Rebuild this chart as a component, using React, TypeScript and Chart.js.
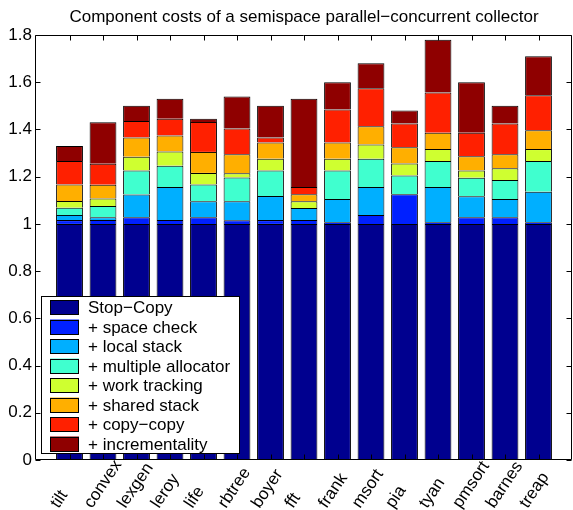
import { useEffect, useRef } from 'react';
import { Chart, registerables } from 'chart.js';

Chart.register(...registerables);

const FONT = '"Liberation Sans", Arial, Helvetica, sans-serif';

const title = 'Component costs of a semispace parallel−concurrent collector';

const categories = ['tilt', 'convex', 'lexgen', 'leroy', 'life', 'rbtree', 'boyer', 'fft', 'frank', 'msort', 'pia', 'tyan', 'pmsort', 'barnes', 'treap'];

const seriesNames = ['Stop−Copy', '+ space check', '+ local stack', '+ multiple allocator', '+ work tracking', '+ shared stack', '+ copy−copy', '+ incrementality'];

const seriesColors = ['#00008F', '#0020FF', '#00AFFF', '#40FFCF', '#CFFF30', '#FFAF00', '#FF2000', '#8F0000'];

// increments per stage (stacked)
const stopCopy = [1.0, 1.0, 1.0, 1.0, 1.0, 1.0, 1.0, 1.0, 1.0, 1.0, 1.0, 1.0, 1.0, 1.0, 1.0];
const spaceCheck = [0.016, 0.016, 0.028, 0.016, 0.028, 0.015, 0.016, 0.016, 0.007, 0.038, 0.126, 0.007, 0.028, 0.028, 0.007];
const localStack = [0.022, 0.012, 0.097, 0.140, 0.068, 0.081, 0.102, 0.051, 0.098, 0.118, 0.0, 0.149, 0.089, 0.077, 0.129];
const multipleAllocator = [0.030, 0.048, 0.101, 0.090, 0.071, 0.101, 0.108, 0.0, 0.121, 0.120, 0.079, 0.110, 0.078, 0.081, 0.130];
const workTracking = [0.029, 0.032, 0.058, 0.061, 0.049, 0.018, 0.050, 0.029, 0.050, 0.060, 0.051, 0.051, 0.031, 0.050, 0.051];
const sharedStack = [0.070, 0.058, 0.082, 0.067, 0.089, 0.080, 0.069, 0.030, 0.069, 0.078, 0.069, 0.069, 0.060, 0.059, 0.080];
const copyCopy = [0.099, 0.089, 0.070, 0.071, 0.127, 0.109, 0.021, 0.030, 0.139, 0.160, 0.100, 0.170, 0.100, 0.130, 0.148];
const incrementality = [0.064, 0.175, 0.064, 0.085, 0.013, 0.136, 0.134, 0.374, 0.116, 0.106, 0.055, 0.224, 0.214, 0.075, 0.165];

const seriesValues = [stopCopy, spaceCheck, localStack, multipleAllocator, workTracking, sharedStack, copyCopy, incrementality];

const yMin = 0;
const yMax = 1.8;
const yStep = 0.2;

const matlabPlugin = {
  id: 'matlabStyle',
  afterDatasetsDraw(chart: any) {
    const { ctx, chartArea: a, scales } = chart;
    ctx.save();
    ctx.strokeStyle = '#000';
    ctx.lineWidth = 1;
    const L = Math.round(a.left) - 0.5;
    const R = Math.round(a.right) - 0.5;
    const T = Math.round(a.top) + 0.5;
    const B = Math.round(a.bottom) - 0.5;
    ctx.beginPath();
    ctx.rect(L, T, R - L, B - T);
    scales.y.ticks.forEach((t: any) => {
      const y = Math.round(scales.y.getPixelForValue(t.value)) + 0.5;
      ctx.moveTo(L, y); ctx.lineTo(L + 5, y);
      ctx.moveTo(R, y); ctx.lineTo(R - 5, y);
    });
    categories.forEach((_, i) => {
      const x = Math.round(scales.x.getPixelForValue(i + 1)) + 0.5;
      ctx.moveTo(x, T); ctx.lineTo(x, T + 5);
      ctx.moveTo(x, B); ctx.lineTo(x, B - 5);
    });
    ctx.stroke();
    ctx.restore();
  },
  afterDraw(chart: any) {
    const { ctx, chartArea: a, scales } = chart;
    ctx.save();
    // rotated category labels
    ctx.font = `17px ${FONT}`;
    ctx.fillStyle = '#000';
    ctx.textAlign = 'left';
    ctx.textBaseline = 'alphabetic';
    const ang = (56 * Math.PI) / 180;
    categories.forEach((c, i) => {
      const x = scales.x.getPixelForValue(i + 1);
      ctx.save();
      ctx.translate(x - 11, a.bottom + 49);
      ctx.rotate(-ang);
      ctx.fillText(c, 0, 0);
      ctx.restore();
    });
    // legend
    const left = a.left + 5;
    const bottom = a.bottom - 7;
    const pitch = 19.5;
    const boxH = 157;
    const top = bottom - boxH;
    const textX = left + 47;
    let maxW = 0;
    seriesNames.forEach((n) => { maxW = Math.max(maxW, ctx.measureText(n).width); });
    const right = textX + maxW + 9;
    ctx.fillStyle = '#fff';
    ctx.fillRect(left, top, right - left, boxH);
    ctx.strokeStyle = '#000';
    ctx.lineWidth = 1;
    ctx.strokeRect(Math.round(left) + 0.5, Math.round(top) + 0.5, Math.round(right - left), Math.round(boxH));
    ctx.textBaseline = 'middle';
    seriesNames.forEach((n, i) => {
      const sy = top + 4 + i * pitch;
      ctx.fillStyle = seriesColors[i];
      ctx.fillRect(left + 9, sy, 29, 14.5);
      ctx.strokeStyle = '#000';
      ctx.strokeRect(left + 9.5, Math.round(sy) + 0.5, 28, 14);
      ctx.fillStyle = '#000';
      ctx.fillText(n, textX, sy + 8.5);
    });
    ctx.restore();
  },
};

export default function App() {
  const ref = useRef<HTMLCanvasElement | null>(null);
  useEffect(() => {
    if (!ref.current) return;
    const labels = ['', ...categories, ''];
    const chart = new Chart(ref.current, {
      type: 'bar',
      data: {
        labels,
        datasets: seriesValues.map((vals, i) => ({
          label: seriesNames[i],
          data: [null, ...vals, null],
          backgroundColor: seriesColors[i],
          borderColor: '#000',
          borderWidth: 1,
          barPercentage: 0.8,
          categoryPercentage: 1.0,
          stack: 's',
        })),
      },
      options: {
        animation: false,
        responsive: false,
        devicePixelRatio: 1,
        events: [],
        layout: { padding: { top: 0, right: 1, bottom: 0, left: 0 } },
        plugins: {
          legend: { display: false },
          tooltip: { enabled: false },
          title: {
            display: true,
            text: title,
            color: '#000',
            fullSize: false,
            font: { family: FONT, size: 17, weight: 'normal' },
            padding: { top: 7.2, bottom: 7.4 },
          },
        },
        scales: {
          x: {
            type: 'category',
            offset: false,
            stacked: true,
            grid: { display: false, drawTicks: false },
            border: { display: false },
            ticks: { display: false },
            afterFit: (s: any) => { s.height = 50; },
          },
          y: {
            min: yMin,
            max: yMax,
            stacked: true,
            grid: { display: false, drawTicks: false },
            border: { display: false },
            ticks: {
              stepSize: yStep,
              padding: 4,
              color: '#000',
              font: { family: FONT, size: 17 },
              callback: (v: any) => String(Number(Number(v).toFixed(1))),
            },
            afterFit: (s: any) => { s.width = 36; },
          },
        },
      },
      plugins: [matlabPlugin],
    } as any);
    return () => chart.destroy();
  }, []);
  return (
    <div style={{ position: 'absolute', left: 0, top: 0, width: 573, height: 510, background: '#fff' }}>
      <canvas ref={ref} width={573} height={510} />
    </div>
  );
}
